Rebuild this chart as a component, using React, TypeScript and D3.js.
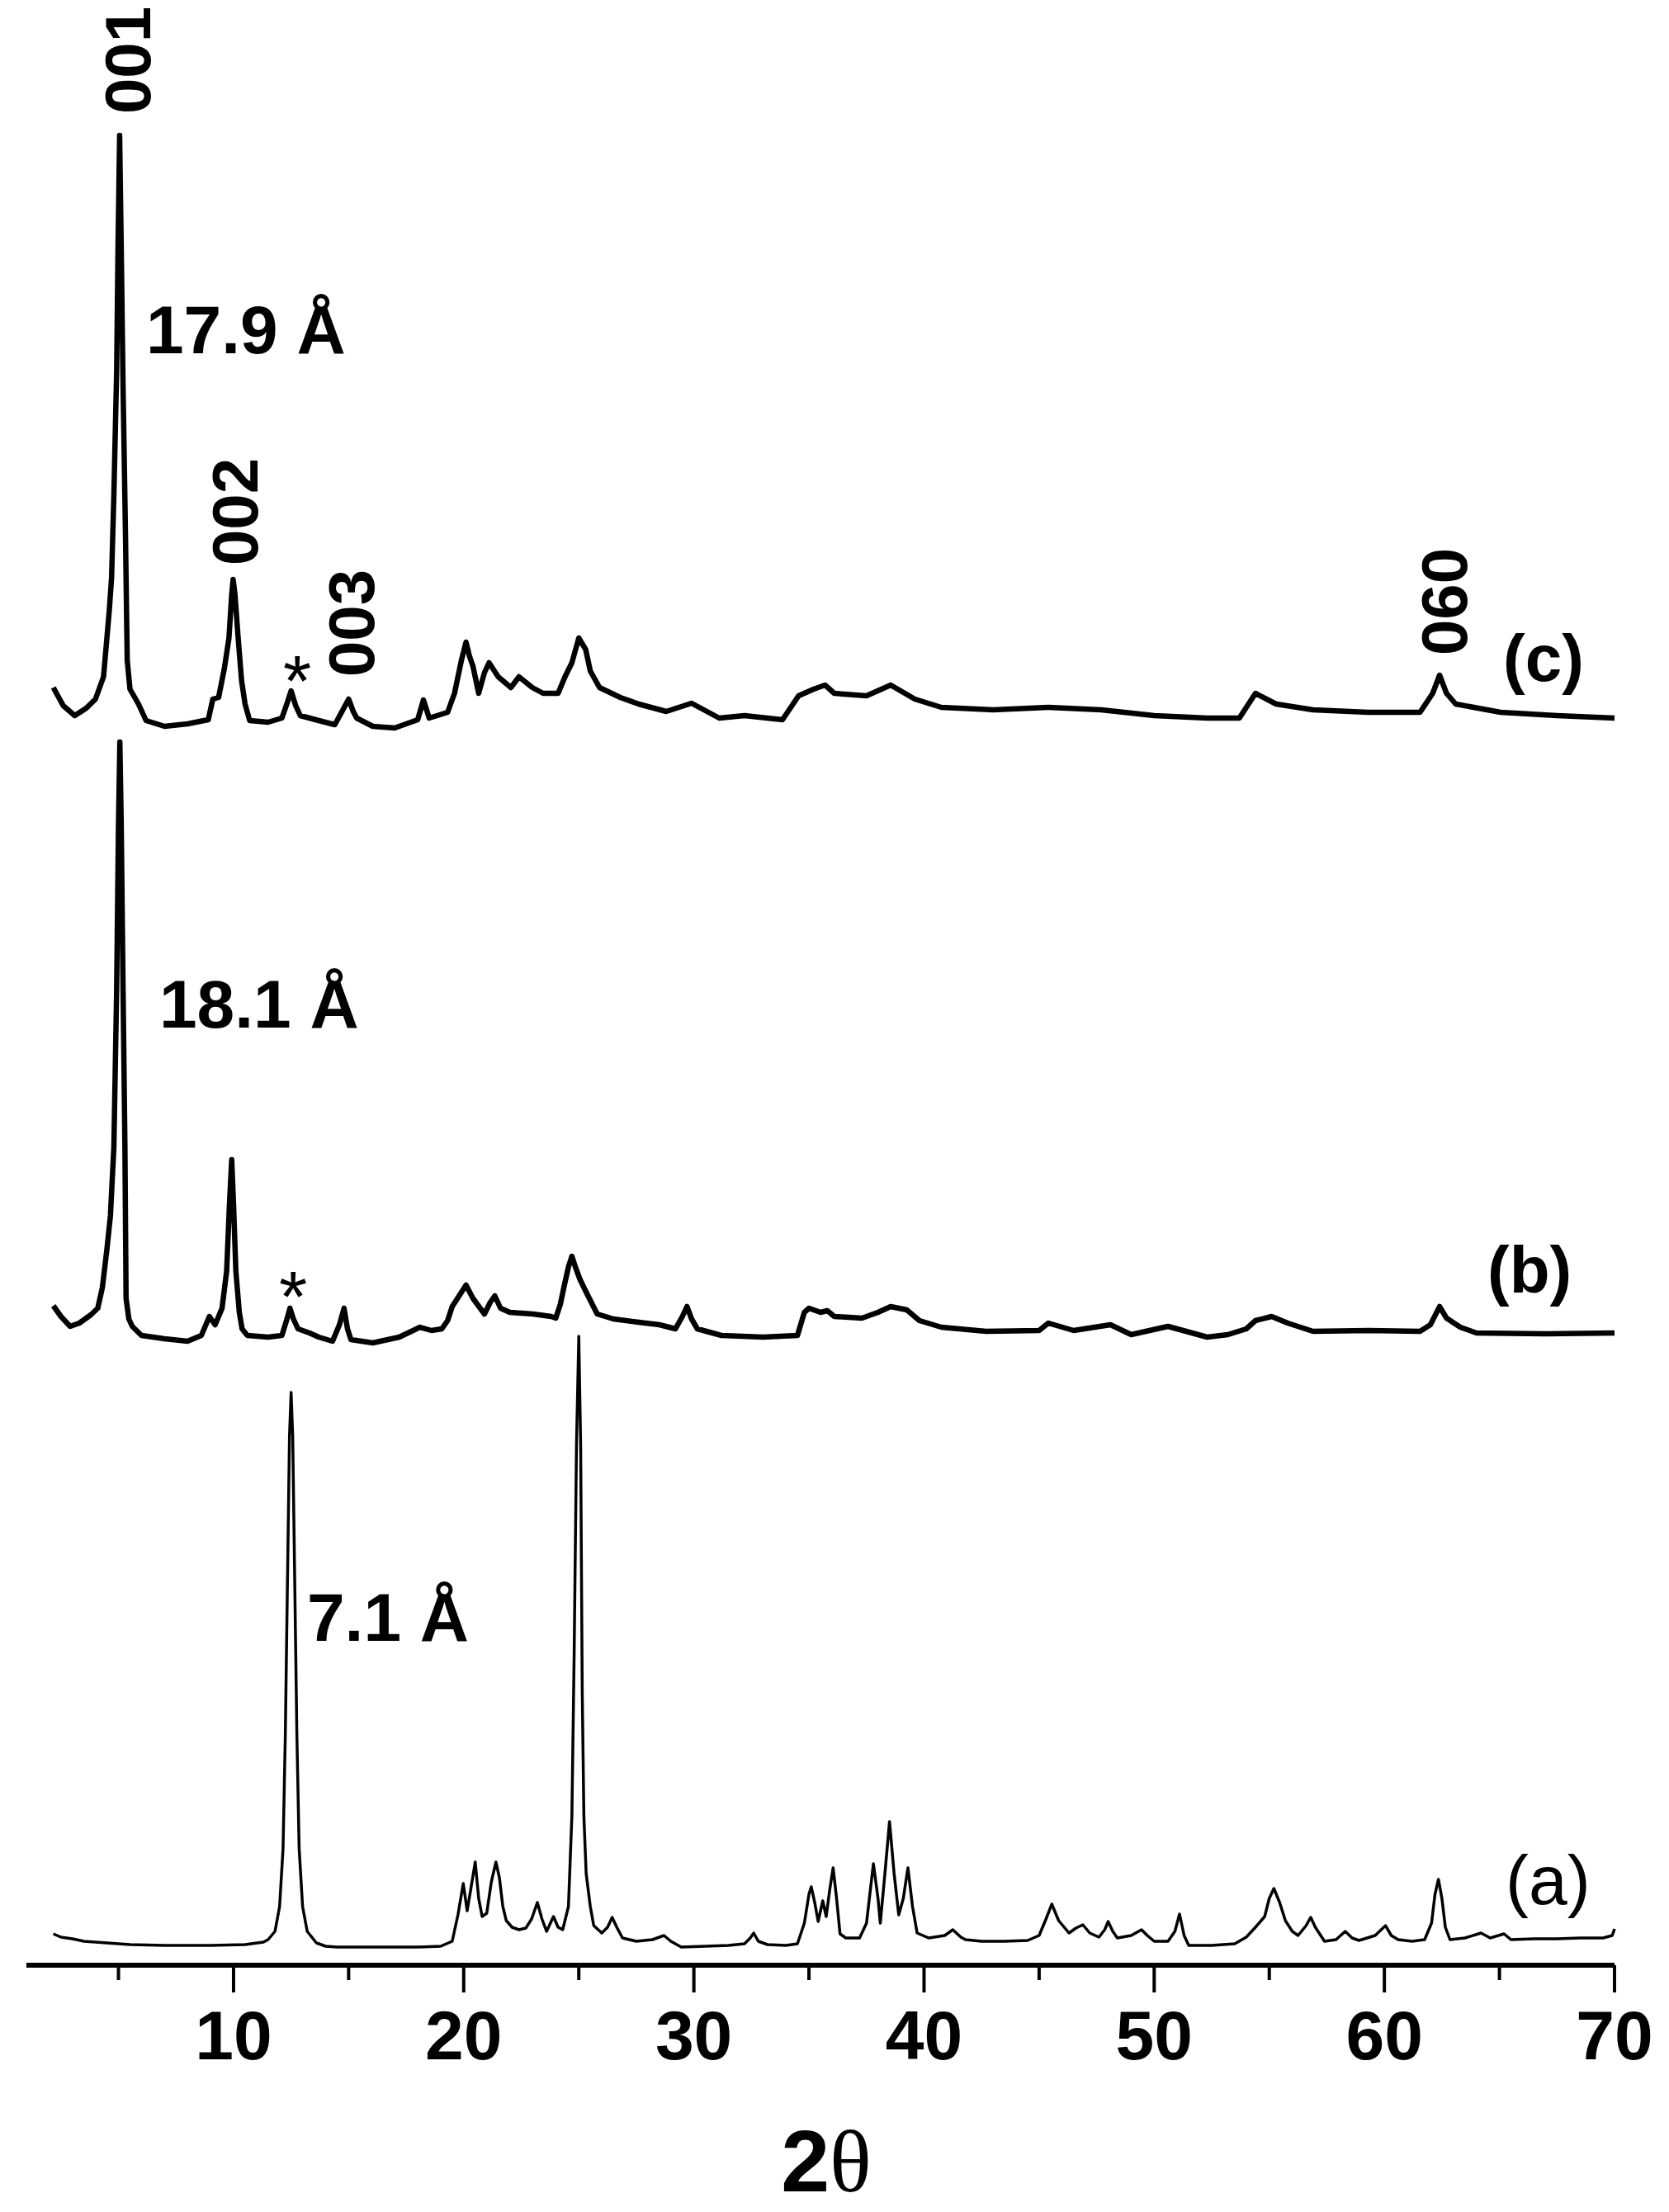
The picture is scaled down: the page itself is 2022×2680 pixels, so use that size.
import React from 'react';
import * as d3 from 'd3';

// ---- data (2θ in degrees, intensity in a.u., curves stacked with offsets) ----
const xDomain: [number, number] = [1, 70];
const majorTicks = [10, 20, 30, 40, 50, 60, 70];
const minorTicks = [5, 15, 25, 35, 45, 55, 65];
const axisTitle = '2';
const axisTitleGreek = 'θ';

const seriesA: [number, number][] = [
  [2.17, 38], [2.5, 34], [3.0, 32], [3.5, 29], [4.5, 27], [5.5, 25], [7.0, 24], [9.0, 24], [10.5, 25],
  [11.3, 28], [11.5, 31], [11.8, 41], [12.0, 71], [12.15, 141], [12.25, 281], [12.35, 481], [12.43, 641],
  [12.5, 694], [12.57, 641], [12.65, 481], [12.75, 281], [12.85, 141], [13.0, 71], [13.2, 41], [13.6, 27],
  [14.0, 23], [14.5, 22], [16, 22], [18, 22], [19.0, 23], [19.5, 29], [19.75, 61], [19.98, 99], [20.15, 66],
  [20.3, 91], [20.5, 125], [20.65, 81], [20.8, 59], [21.0, 63], [21.2, 101], [21.4, 125], [21.55, 106],
  [21.7, 71], [21.85, 54], [22.1, 46], [22.4, 43], [22.7, 45], [22.95, 56], [23.2, 76], [23.4, 56],
  [23.6, 41], [23.9, 59], [24.1, 46], [24.3, 43], [24.55, 71], [24.7, 181], [24.8, 381], [24.9, 631],
  [25.0, 762], [25.08, 631], [25.15, 331], [25.22, 181], [25.32, 111], [25.5, 71], [25.65, 48], [26.0, 39],
  [26.25, 46], [26.45, 58], [26.65, 46], [26.9, 33], [27.5, 29], [28.2, 31], [28.7, 36], [29.0, 29],
  [29.45, 22], [30.5, 23], [31.5, 24], [32.2, 26], [32.45, 33], [32.6, 39], [32.8, 29], [33.2, 25],
  [34.0, 24], [34.5, 26], [34.8, 51], [35.0, 86], [35.1, 95], [35.25, 76], [35.4, 53], [35.6, 78],
  [35.75, 59], [35.9, 91], [36.05, 118], [36.2, 81], [36.35, 38], [36.6, 33], [37.2, 33], [37.5, 51],
  [37.8, 123], [38.0, 81], [38.1, 51], [38.3, 111], [38.5, 174], [38.7, 111], [38.9, 61], [39.1, 81],
  [39.3, 118], [39.5, 71], [39.7, 39], [40.2, 33], [40.9, 36], [41.25, 43], [41.6, 34], [41.8, 31],
  [42.5, 29], [43.5, 29], [44.5, 30], [45.0, 36], [45.3, 56], [45.55, 74], [45.85, 54], [46.3, 39],
  [46.6, 45], [46.9, 49], [47.2, 39], [47.6, 34], [47.85, 43], [48.0, 53], [48.2, 41], [48.4, 33],
  [49.0, 36], [49.45, 43], [49.7, 36], [50.0, 29], [50.6, 29], [50.9, 41], [51.1, 62], [51.3, 36],
  [51.5, 24], [52.5, 24], [53.5, 26], [54.0, 34], [54.4, 46], [54.8, 59], [55.0, 81], [55.2, 93],
  [55.45, 76], [55.7, 54], [56.0, 41], [56.25, 36], [56.6, 48], [56.8, 58], [57.0, 46], [57.4, 29],
  [57.9, 31], [58.3, 41], [58.6, 33], [58.9, 30], [59.6, 36], [60.05, 48], [60.3, 36], [60.6, 31],
  [61.2, 29], [61.75, 31], [62.05, 51], [62.2, 86], [62.35, 104], [62.5, 81], [62.65, 46], [62.85, 31],
  [63.5, 33], [64.2, 39], [64.6, 33], [65.2, 38], [65.5, 31], [66.5, 32], [67.5, 32], [68.5, 33],
  [69.5, 33], [69.9, 36], [70.0, 44],
];

const seriesB: [number, number][] = [
  [2.17, 799], [2.5, 786], [2.9, 774], [3.3, 778], [3.8, 788], [4.1, 796], [4.3, 821], [4.5, 868],
  [4.65, 908], [4.8, 991], [4.92, 1181], [5.0, 1381], [5.06, 1482], [5.12, 1381], [5.2, 1181],
  [5.28, 991], [5.33, 808], [5.45, 783], [5.6, 774], [6.0, 763], [7.0, 759], [8.0, 756], [8.6, 763],
  [8.95, 786], [9.2, 776], [9.5, 796], [9.7, 841], [9.82, 921], [9.92, 976], [10.0, 921], [10.1, 841],
  [10.25, 791], [10.37, 771], [10.6, 763], [11.5, 761], [12.1, 763], [12.3, 781], [12.45, 796],
  [12.6, 783], [12.8, 771], [13.3, 766], [13.7, 761], [14.3, 756], [14.6, 776], [14.8, 796], [14.95, 771],
  [15.1, 758], [16.05, 754], [17.2, 761], [17.8, 769], [18.1, 773], [18.6, 769], [19.05, 771],
  [19.3, 781], [19.5, 798], [19.8, 811], [20.1, 824], [20.4, 808], [20.9, 789], [21.15, 803],
  [21.35, 811], [21.6, 796], [22.0, 791], [23.0, 789], [23.8, 786], [24.0, 784], [24.2, 801],
  [24.35, 821], [24.55, 846], [24.7, 859], [24.85, 846], [25.05, 831], [25.4, 811], [25.8, 789],
  [26.5, 783], [27.6, 779], [28.5, 776], [29.2, 771], [29.5, 786], [29.7, 798], [29.9, 783],
  [30.15, 771], [31.2, 763], [33.0, 761], [34.5, 763], [34.8, 791], [35.0, 796], [35.5, 791],
  [35.8, 793], [36.1, 786], [37.3, 784], [38.0, 791], [38.55, 798], [39.25, 794], [39.8, 781],
  [40.75, 773], [42.7, 768], [45.0, 769], [45.4, 778], [46.5, 769], [48.1, 776], [49.0, 764],
  [50.6, 774], [52.3, 761], [53.2, 764], [54.0, 771], [54.4, 781], [55.1, 786], [55.8, 778],
  [56.9, 768], [59.3, 769], [61.55, 768], [62.0, 776], [62.4, 798], [62.7, 784], [63.3, 773],
  [64.0, 766], [67.0, 765], [70.0, 766],
];

const seriesC: [number, number][] = [
  [2.17, 1548], [2.6, 1526], [3.1, 1514], [3.6, 1523], [4.0, 1534], [4.35, 1561], [4.6, 1641],
  [4.7, 1681], [4.8, 1781], [4.92, 1931], [4.98, 2081], [5.05, 2217], [5.12, 2081], [5.2, 1911],
  [5.3, 1741], [5.38, 1581], [5.5, 1546], [5.87, 1528], [6.2, 1508], [7.0, 1501], [8.0, 1504],
  [8.9, 1509], [9.1, 1534], [9.35, 1536], [9.6, 1571], [9.8, 1608], [9.92, 1661], [9.98, 1679],
  [10.06, 1661], [10.2, 1608], [10.35, 1556], [10.5, 1528], [10.7, 1508], [11.5, 1506], [12.1, 1511],
  [12.35, 1531], [12.5, 1544], [12.7, 1526], [12.9, 1514], [13.7, 1508], [14.4, 1503], [14.75, 1521],
  [15.0, 1534], [15.2, 1519], [15.35, 1511], [16.05, 1501], [17.0, 1499], [18.0, 1509], [18.25, 1533],
  [18.5, 1511], [19.3, 1518], [19.6, 1541], [19.9, 1581], [20.1, 1603], [20.25, 1586], [20.4, 1574],
  [20.65, 1541], [20.9, 1566], [21.1, 1578], [21.5, 1561], [22.05, 1548], [22.4, 1561], [22.98, 1548],
  [23.45, 1541], [24.1, 1541], [24.4, 1561], [24.7, 1578], [25.0, 1608], [25.3, 1594], [25.5, 1568],
  [25.9, 1548], [26.8, 1536], [27.6, 1528], [28.8, 1519], [29.9, 1529], [31.1, 1511], [32.2, 1514],
  [33.85, 1509], [34.55, 1538], [35.2, 1546], [35.7, 1551], [36.1, 1541], [37.5, 1538], [38.55, 1551],
  [39.6, 1534], [40.75, 1524], [43.0, 1521], [45.4, 1524], [47.7, 1521], [50.0, 1514], [52.3, 1511],
  [53.7, 1511], [54.4, 1541], [55.3, 1528], [56.9, 1521], [59.3, 1518], [61.55, 1518], [62.1, 1541],
  [62.4, 1563], [62.7, 1541], [63.1, 1528], [65.05, 1518], [67.5, 1514], [70.0, 1511],
];

const curveLabels = ['(a)', '(b)', '(c)'];
const spacingLabels = ['7.1 Å', '18.1 Å', '17.9 Å'];
const reflectionLabels = ['001', '002', '003', '060'];

const W = 2022;
const H = 2680;
const SANS = '"Liberation Sans", Arial, Helvetica, sans-serif';

export default function App() {
  const x = d3.scaleLinear().domain(xDomain).range([32, 1956]);
  const axisY = 2381;
  const y = d3.scaleLinear().domain([0, axisY]).range([axisY, 0]);
  const line = d3
    .line<[number, number]>()
    .x((d) => x(d[0]))
    .y((d) => y(d[1]));

  const rot = (t: string, bx: number, cy: number) => (
    <text
      key={t}
      transform={`translate(${bx},${cy}) rotate(-90)`}
      textAnchor="middle"
      fontFamily={SANS}
      fontWeight="bold"
      fontSize={78}
    >
      {t}
    </text>
  );

  return (
    <div style={{ position: 'absolute', left: 0, top: 0 }}>
      <svg width={W} height={H} viewBox={`0 0 ${W} ${H}`} style={{ display: 'block', background: '#fff' }}>
        <rect x={0} y={0} width={W} height={H} fill="#fff" />
        {/* curves */}
        <path d={line(seriesA) || ''} fill="none" stroke="#000" strokeWidth={3.5} strokeLinejoin="round" />
        <path d={line(seriesB) || ''} fill="none" stroke="#000" strokeWidth={6.5} strokeLinejoin="round" />
        <path d={line(seriesC) || ''} fill="none" stroke="#000" strokeWidth={6.5} strokeLinejoin="round" />

        {/* x axis */}
        <line x1={x(xDomain[0])} x2={x(xDomain[1])} y1={axisY} y2={axisY} stroke="#000" strokeWidth={6} />
        {majorTicks.map((t) => (
          <line key={'M' + t} x1={x(t)} x2={x(t)} y1={axisY} y2={axisY + 33} stroke="#000" strokeWidth={4} />
        ))}
        {minorTicks.map((t) => (
          <line key={'m' + t} x1={x(t)} x2={x(t)} y1={axisY} y2={axisY + 18} stroke="#000" strokeWidth={4} />
        ))}
        {majorTicks.map((t) => (
          <text key={'L' + t} x={x(t)} y={2495} textAnchor="middle" fontFamily={SANS} fontWeight="bold" fontSize={84}>
            {t}
          </text>
        ))}
        <text x={1001} y={2655} textAnchor="middle" fontSize={106}>
          <tspan fontFamily={SANS} fontWeight="bold">{axisTitle}</tspan>
          <tspan fontFamily='"Liberation Serif", "Times New Roman", serif'>{axisTitleGreek}</tspan>
        </text>

        {/* reflection labels */}
        {rot(reflectionLabels[0], 182, 73)}
        {rot(reflectionLabels[1], 312, 620)}
        {rot(reflectionLabels[2], 453, 755)}
        {rot(reflectionLabels[3], 1777, 729)}

        {/* d-spacing labels */}
        <text x={177} y={428} fontFamily={SANS} fontWeight="bold" fontSize={82}>{spacingLabels[2]}</text>
        <text x={193} y={1245} fontFamily={SANS} fontWeight="bold" fontSize={82}>{spacingLabels[1]}</text>
        <text x={372} y={1988} fontFamily={SANS} fontWeight="bold" fontSize={82}>{spacingLabels[0]}</text>

        {/* impurity markers */}
        <text x={360} y={855} textAnchor="middle" fontFamily={SANS} fontSize={88}>*</text>
        <text x={355} y={1601} textAnchor="middle" fontFamily={SANS} fontSize={88}>*</text>

        {/* curve labels */}
        <text x={1821} y={825} fontFamily={SANS} fontWeight="bold" fontSize={80}>{curveLabels[2]}</text>
        <text x={1802} y={1566} fontFamily={SANS} fontWeight="bold" fontSize={80}>{curveLabels[1]}</text>
        <text x={1824} y={2307} fontFamily={SANS} fontSize={84}>{curveLabels[0]}</text>
      </svg>
    </div>
  );
}
